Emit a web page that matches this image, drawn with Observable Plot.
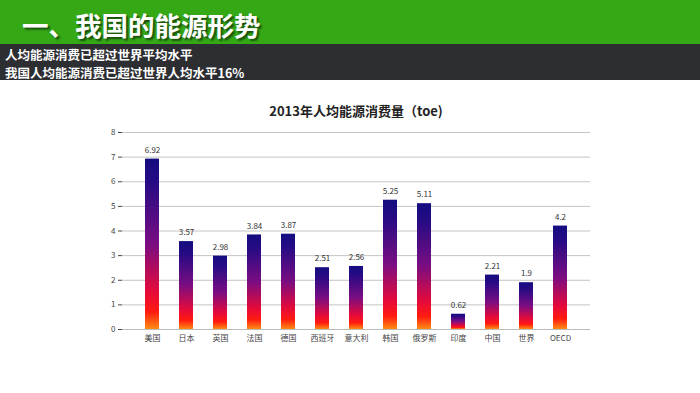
<!DOCTYPE html>
<html><head><meta charset="utf-8">
<script src="https://cdn.jsdelivr.net/npm/d3@7"></script>
<script src="https://cdn.jsdelivr.net/npm/@observablehq/plot@0.6"></script>
<style>
body{margin:0;width:700px;height:393px;background:#fff;position:relative;overflow:hidden;font-family:"Noto Sans CJK SC","Noto Sans",sans-serif;}
#top{position:absolute;left:0;top:0;width:700px;height:44px;background:#35a816;}
#top span{position:absolute;left:22px;top:5px;font-size:26.5px;font-weight:bold;color:#fff;text-shadow:2px 2px 2px rgba(0,0,0,0.55);line-height:40px;}
#sub{position:absolute;left:0;top:44px;width:700px;height:36px;background:#2c2e32;color:#fff;font-weight:bold;font-size:12.5px;}
#sub div{position:absolute;left:5px;height:18px;line-height:18px;white-space:nowrap;}
#ctitle{position:absolute;left:0;width:712px;top:102px;text-align:center;font-size:13px;font-weight:bold;color:#222;line-height:18px;}
#chart{position:absolute;left:0;top:120px;}
</style></head><body>
<div id="top"><span>一、我国的能源形势</span></div>
<div id="sub"><div style="top:2px">人均能源消费已超过世界平均水平</div><div style="top:20px">我国人均能源消费已超过世界人均水平16%</div></div>
<div id="ctitle">2013年人均能源消费量（toe)</div>
<div id="chart"></div>
<script>
const countries = ["美国","日本","英国","法国","德国","西班牙","意大利","韩国","俄罗斯","印度","中国","世界","OECD"];
const values = [6.92,3.57,2.98,3.84,3.87,2.51,2.56,5.25,5.11,0.62,2.21,1.9,4.2];
const labels = ["6.92","3.57","2.98","3.84","3.87","2.51","2.56","5.25","5.11","0.62","2.21","1.9","4.2"];
const yTicks = [0,1,2,3,4,5,6,7,8];
const data = countries.map((c,i)=>({c, v: values[i], t: labels[i]}));

const chart = Plot.plot({
  width: 700, height: 235,
  marginLeft: 122, marginRight: 110, marginTop: 12, marginBottom: 26,
  style: {fontFamily: '"Noto Sans CJK SC", sans-serif', fontSize: "8px", color: "#444", background: "transparent"},
  x: {domain: countries, padding: 0.6, label: null, tickSize: 0, tickPadding: 6},
  y: {domain: [0, 8], ticks: yTicks, label: null, tickSize: 4, tickPadding: 3},
  marks: [
    Plot.gridY(yTicks, {stroke: "#c4c4c4", strokeOpacity: 1}),
    Plot.ruleX([0], {frameAnchor: "left", stroke: "#bbb"}),
    Plot.barY(data, {x: "c", y: "v", fill: "url(#barGrad)"}),
    Plot.text(data, {x: "c", y: "v", text: "t", dy: -9, fill: "#333", fontSize: 8}),
    Plot.ruleY([0], {stroke: "#bbb"})
  ]
});
const ns = "http://www.w3.org/2000/svg";
const defs = document.createElementNS(ns, "defs");
defs.innerHTML = `<linearGradient id="barGrad" x1="0" y1="0" x2="0" y2="1">
  <stop offset="0" stop-color="#140c80"/>
  <stop offset="0.15" stop-color="#280b84"/>
  <stop offset="0.5" stop-color="#7a0d82"/>
  <stop offset="0.78" stop-color="#e50a3a"/>
  <stop offset="0.9" stop-color="#ff1a10"/>
  <stop offset="1" stop-color="#ff8c14"/>
</linearGradient>`;
chart.insertBefore(defs, chart.firstChild);
document.getElementById("chart").appendChild(chart);
</script>
</body></html>
